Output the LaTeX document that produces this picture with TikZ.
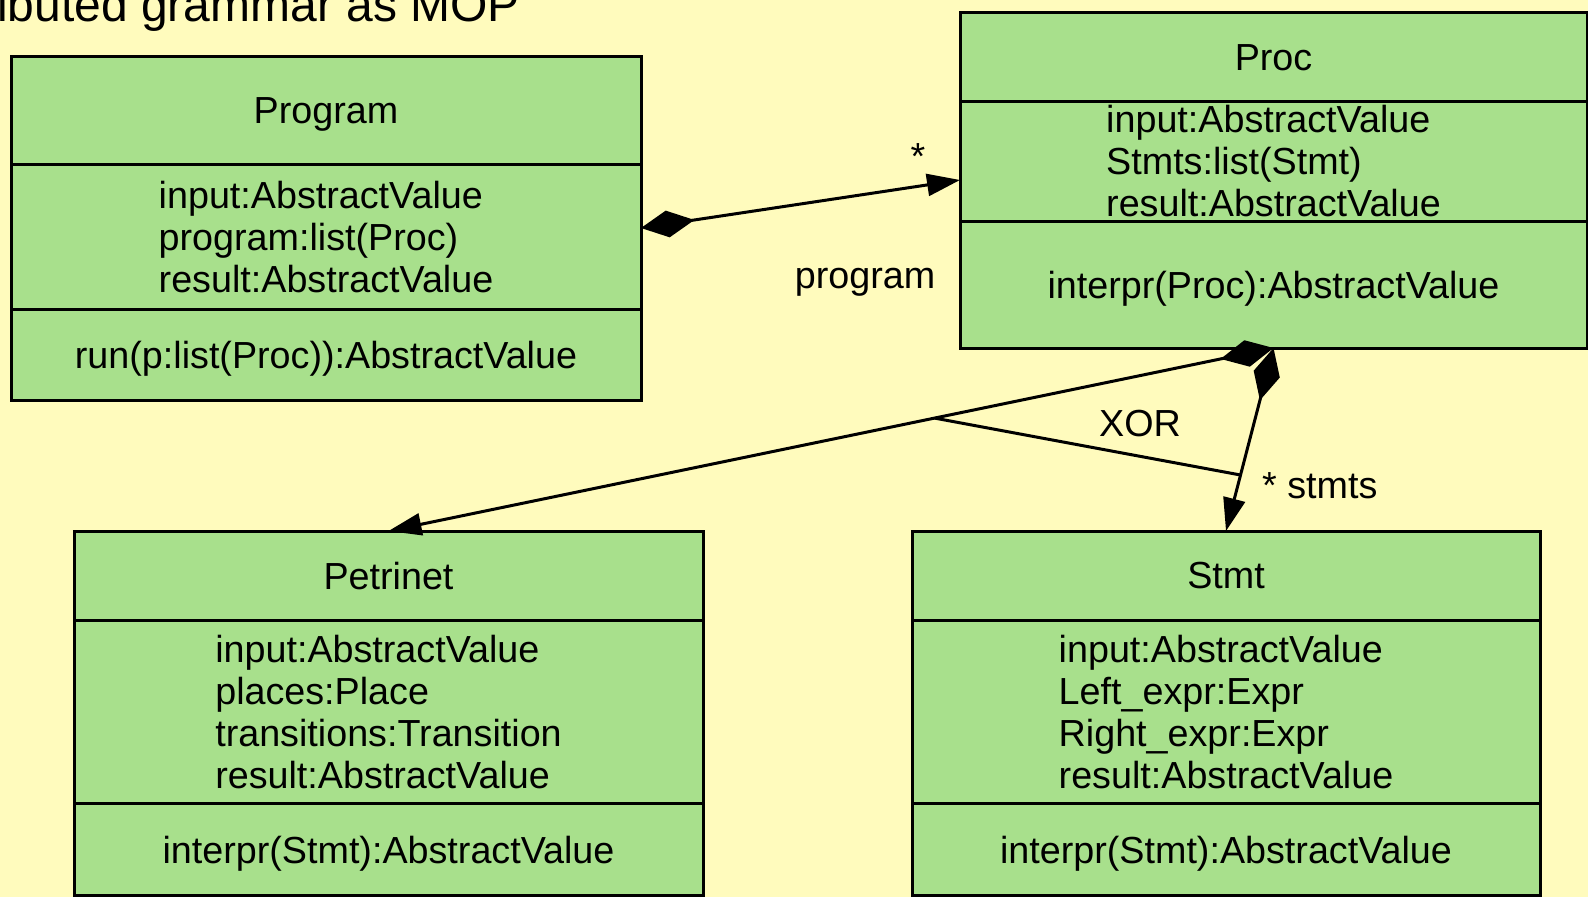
\documentclass[tikz,border=0pt]{standalone}
\usepackage{fontspec}
\setmainfont{Liberation Sans}
\usetikzlibrary{arrows.meta,calc}
\definecolor{bgyellow}{RGB}{255,251,189}
\definecolor{clsgreen}{RGB}{168,224,140}
\begin{document}
\begin{tikzpicture}[x=1pt,y=-1pt,
  cls/.style={draw=black,line width=3pt,fill=clsgreen,inner sep=0pt,outer sep=0pt},
  divider/.style={draw=black,line width=3pt},
  lbl/.style={inner sep=0pt,font=\fontsize{37.7}{42}\selectfont},
  attr/.style={lbl,align=left},
  comp/.style={draw=black,line width=3pt,
    {Diamond[length=54pt,width=27pt]}-{Triangle[length=33pt,width=22pt]}},
  plain/.style={draw=black,line width=3pt}
]
\useasboundingbox (0,0) rectangle (1588,897);
\clip (0,0) rectangle (1588,897);
\fill[bgyellow] (0,0) rectangle (1588,897);

% title (cut off at the page edge, as in the reference)
\node[anchor=base west,inner sep=0pt,font=\fontsize{48}{56}\selectfont] (title) at (-77.7,21.5) {Attributed grammar as MOP};

% Program
\node[cls,minimum width=630pt,minimum height=344pt] (prog) at (326,228) {};
\draw[divider] (11,164) -- (641,164);
\draw[divider] (11,309) -- (641,309);
\node[lbl] (progname) at (326,114) {Program};
\node[attr] (progattr) at (326,237) {input:AbstractValue\\program:list(Proc)\\result:AbstractValue};
\node[lbl] (progop) at (326,359) {run(p:list(Proc)):AbstractValue};

% Proc
\node[cls,minimum width=627pt,minimum height=336pt] (proc) at (1273.5,180) {};
\draw[divider] (960,101) -- (1587,101);
\draw[divider] (960,221) -- (1587,221);
\node[lbl] (procname) at (1273.5,58) {Proc};
\node[attr] (procattr) at (1273.5,161) {input:AbstractValue\\Stmts:list(Stmt)\\result:AbstractValue};
\node[lbl] (procop) at (1273.5,289) {interpr(Proc):AbstractValue};

% Petrinet
\node[cls,minimum width=629pt,minimum height=364pt] (petri) at (388.5,713) {};
\draw[divider] (74,620) -- (703,620);
\draw[divider] (74,803) -- (703,803);
\node[lbl] (petriname) at (388.5,576) {Petrinet};
\node[attr] (petriattr) at (388.5,712) {input:AbstractValue\\places:Place\\transitions:Transition\\result:AbstractValue};
\node[lbl] (petriop) at (388.5,854) {interpr(Stmt):AbstractValue};

% Stmt
\node[cls,minimum width=628pt,minimum height=364pt] (stmt) at (1226,713) {};
\draw[divider] (912,620) -- (1540,620);
\draw[divider] (912,803) -- (1540,803);
\node[lbl] (stmtname) at (1226,576) {Stmt};
\node[attr] (stmtattr) at (1226,712) {input:AbstractValue\\Left\_expr:Expr\\Right\_expr:Expr\\result:AbstractValue};
\node[lbl] (stmtop) at (1226,854) {interpr(Stmt):AbstractValue};

% connectors
\draw[comp] (prog.east) -- (proc.west);
\draw[comp] (proc.south) -- (petri.north);
\draw[comp] (proc.south) -- (stmt.north);
\coordinate (xa) at ($(proc.south)!0.383!(petri.north)$);
\coordinate (xb) at ($(proc.south)!0.694!(stmt.north)$);
\draw[plain] (xa) -- (xb);

% connector labels
\node[lbl,anchor=base] (star1) at (918,169) {*};
\node[lbl,anchor=base] (role1) at (865,288) {program};
\node[lbl,anchor=base] (xor) at (1140,436) {XOR};
\node[lbl,anchor=base west] (role2) at (1262,498) {* stmts};
\end{tikzpicture}
\end{document}
